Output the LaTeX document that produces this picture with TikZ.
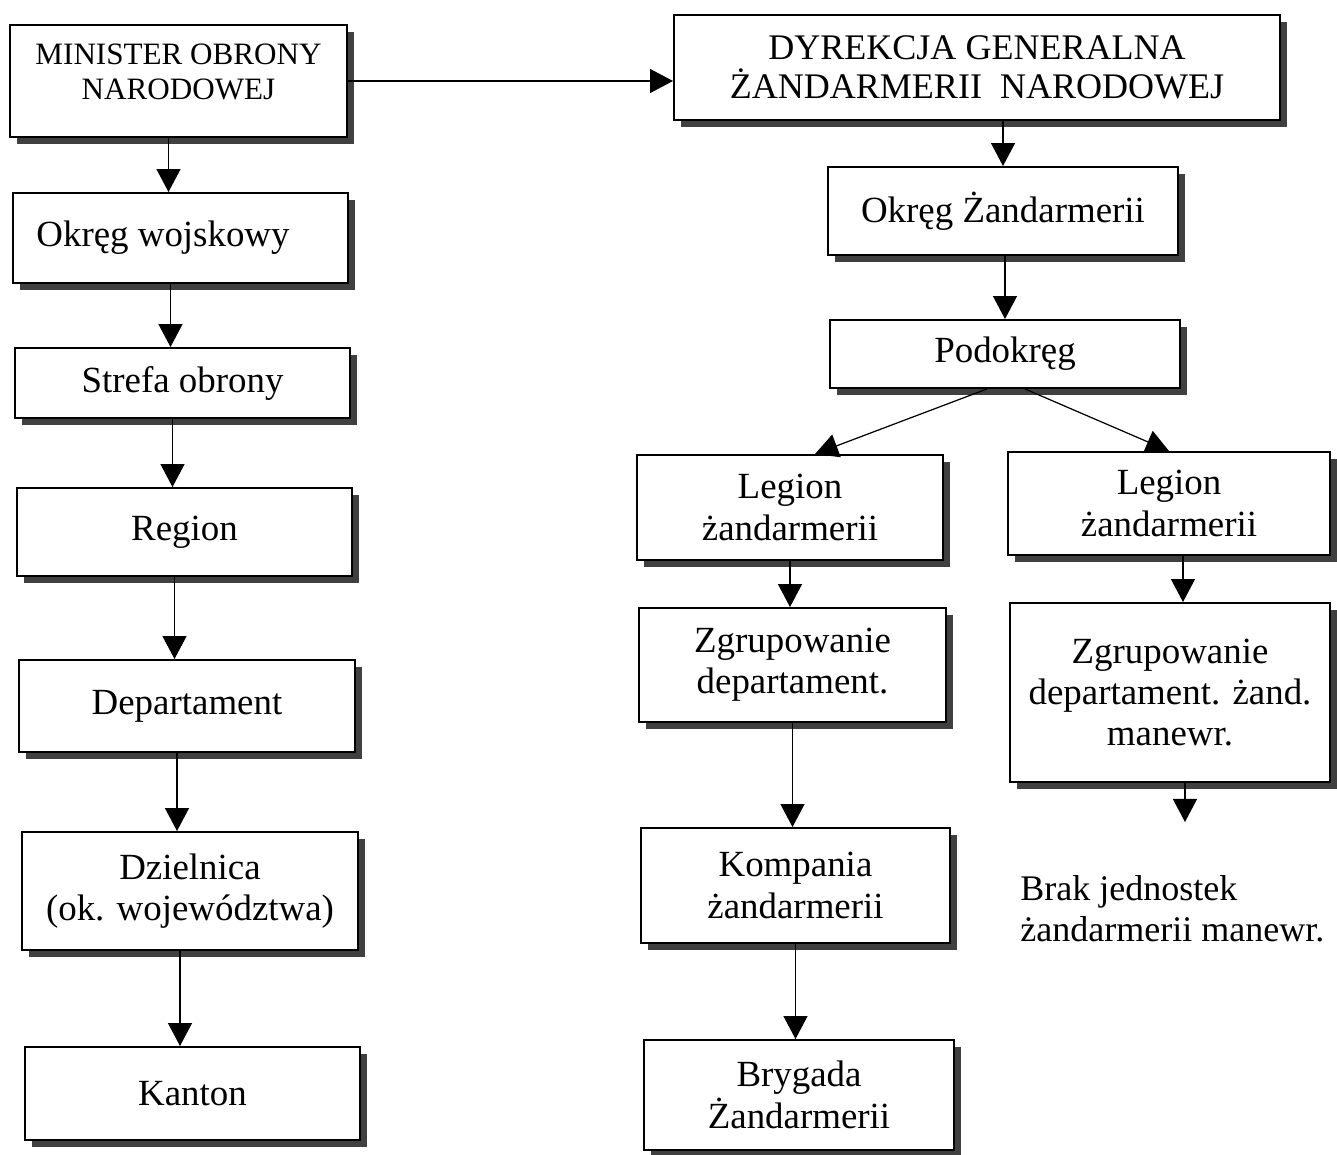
\documentclass[tikz,border=0pt]{standalone}
\usepackage{fontspec}
\setmainfont{Liberation Serif}
\usetikzlibrary{arrows.meta,shadows}

\begin{document}
\begin{tikzpicture}[scale=0.2]
\tikzstyle{every node}+=[inner sep=0pt, font=\fontsize{21}{23.5}\selectfont]
\tikzstyle{box}=[draw=black, line width=1.1pt, fill=white, align=center,
  drop shadow={shadow xshift=0.14cm, shadow yshift=-0.14cm, fill=black!75, opacity=1}]
\tikzstyle{arr}=[black, line width=0.7pt, -{Triangle[width=0.48cm,length=0.46cm]}]
\useasboundingbox (0,0) rectangle (133.7,-115.5);
% lewa kolumna
\node [box, minimum width=6.74cm, minimum height=2.24cm, text depth=0.36cm, font=\fontsize{17.7}{20}\selectfont] (min) at (17.85,-8.1) {MINISTER OBRONY\\NARODOWEJ};
\node [box, minimum width=6.70cm, minimum height=1.80cm] (okw) at (18.05,-23.8) {Okręg wojskowy\hspace{0.7cm}};
\node [box, minimum width=6.70cm, minimum height=1.40cm] (str) at (18.25,-38.3) {Strefa obrony};
\node [box, minimum width=6.70cm, minimum height=1.76cm] (reg) at (18.45,-53.2) {Region};
\node [box, minimum width=6.72cm, minimum height=1.84cm] (dep) at (18.7,-70.6) {Departament};
\node [box, minimum width=6.72cm, minimum height=2.36cm] (dzi) at (19.0,-89.1) {Dzielnica\\(ok. województwa)};
\node [box, minimum width=6.70cm, minimum height=1.86cm] (kan) at (19.25,-109.35) {Kanton};
% prawa kolumna
\node [box, minimum width=12.12cm, minimum height=2.10cm, font=\fontsize{20.5}{22.5}\selectfont] (dyr) at (97.7,-6.75) {DYREKCJA GENERALNA\\ŻANDARMERII\ \ NARODOWEJ};
\node [box, minimum width=7.00cm, minimum height=1.76cm] (okz) at (100.3,-21.1) {Okręg Żandarmerii};
\node [box, minimum width=7.00cm, minimum height=1.36cm] (pod) at (100.5,-35.4) {Podokręg};
\node [box, minimum width=6.12cm, minimum height=2.10cm] (legl) at (79.0,-50.75) {Legion\\żandarmerii};
\node [box, minimum width=6.44cm, minimum height=2.06cm] (legr) at (116.9,-50.35) {Legion\\żandarmerii};
\node [box, minimum width=6.14cm, minimum height=2.28cm] (zgrl) at (79.25,-66.5) {Zgrupowanie\\departament.};
\node [box, minimum width=6.40cm, minimum height=3.58cm] (zgrr) at (117.0,-69.25) {Zgrupowanie\\departament. żand.\\manewr.};
\node [box, minimum width=6.18cm, minimum height=2.30cm] (kom) at (79.55,-88.55) {Kompania\\żandarmerii};
\node [box, minimum width=6.20cm, minimum height=2.20cm] (bry) at (79.9,-109.5) {Brygada\\Żandarmerii};
\node [anchor=north west, align=left, font=\fontsize{20.5}{23.5}\selectfont] (brak) at (102.0,-87.5) {Brak jednostek\\żandarmerii manewr.};
\coordinate (koniec) at (118.5,-82.2);
% strzalki (xshift liczony w skali 0.2)
\draw [arr] (min.east) -- (min.east -| dyr.west);
\draw [arr] ([xshift=-10mm]min.south) -- ([xshift=-10mm]min.south |- okw.north);
\draw [arr] ([xshift=-10mm]okw.south) -- ([xshift=-10mm]okw.south |- str.north);
\draw [arr] ([xshift=-10mm]str.south) -- ([xshift=-10mm]str.south |- reg.north);
\draw [arr] ([xshift=-10mm]reg.south) -- ([xshift=-10mm]reg.south |- dep.north);
\draw [arr] ([xshift=-10mm]dep.south) -- ([xshift=-10mm]dep.south |- dzi.north);
\draw [arr] ([xshift=-10mm]dzi.south) -- ([xshift=-10mm]dzi.south |- kan.north);
\draw [arr] (okz.north |- dyr.south) -- (okz.north);
\draw [arr] (pod.north |- okz.south) -- (pod.north);
\draw [arr] ([xshift=-18mm]pod.south) -- ([xshift=25mm]legl.north);
\draw [arr] ([xshift=20mm]pod.south) -- (legr.north);
\draw [arr] (legl.south) -- (legl.south |- zgrl.north);
\draw [arr] ([xshift=14mm]legr.south) -- ([xshift=14mm]legr.south |- zgrr.north);
\draw [arr] (zgrl.south) -- (zgrl.south |- kom.north);
\draw [arr] (kom.south) -- (kom.south |- bry.north);
\draw [arr] (koniec |- zgrr.south) -- (koniec);
\end{tikzpicture}
\end{document}
